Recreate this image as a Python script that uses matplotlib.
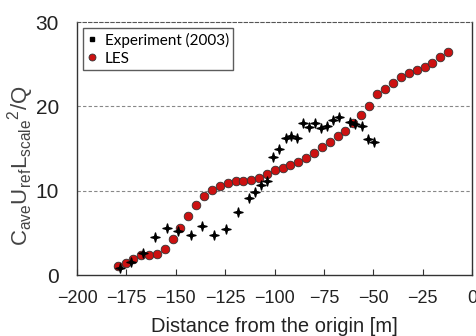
import matplotlib.pyplot as plt
from matplotlib.path import Path
import numpy as np

# experiment (2003)
exp_x = [-178.5, -172.5, -166.8, -160.5, -154.6, -148.7, -142.3, -136.7, -130.6, -124.7,
         -118.5, -112.8, -109.7, -106.7, -103.8, -100.6, -97.7, -94.5, -91.7, -88.6,
         -85.8, -82.7, -79.8, -76.6, -73.6, -70.6, -67.6, -62.1, -59.1, -55.7,
         -52.9, -49.9]
exp_y = [0.8, 1.6, 2.66, 4.56, 5.56, 5.16, 4.8, 5.79, 4.8, 5.4,
         7.46, 9.08, 9.8, 10.67, 11.1, 13.97, 14.96, 16.27, 16.46, 16.3,
         18.0, 17.5, 18.0, 17.4, 17.7, 18.4, 18.75, 18.2, 17.9, 17.7,
         16.15, 15.75]

# LES
les_x = [-179.4, -175.5, -171.6, -167.6, -163.7, -159.7, -155.6, -151.6, -147.7, -143.8,
         -139.7, -135.7, -131.6, -127.8, -123.7, -119.8, -115.8, -111.9, -107.8, -104.0,
         -100.0, -95.9, -92.0, -88.0, -83.9, -79.9, -76.0, -71.9, -67.9, -64.2,
         -60.1, -56.1, -52.0, -48.0, -43.9, -40.0, -36.0, -31.9, -28.1, -24.0,
         -20.1, -16.1, -12.2]
les_y = [1.07, 1.43, 1.94, 2.34, 2.34, 2.46, 3.06, 4.29, 5.56, 6.99,
         8.33, 9.32, 10.04, 10.6, 10.9, 11.1, 11.1, 11.27, 11.46, 11.99,
         12.42, 12.74, 13.06, 13.45, 13.93, 14.49, 15.12, 15.8, 16.46, 17.02,
         18.06, 18.93, 20.0, 21.47, 22.1, 22.8, 23.5, 23.9, 24.3, 24.7,
         25.1, 25.9, 26.5]

xticks = [-200, -175, -150, -125, -100, -75, -50, -25, 0]
yticks = [0, 10, 20, 30]

# four pointed star marker
a = np.linspace(0, 2 * np.pi, 9)[:-1] + np.pi / 2
r = np.where(np.arange(8) % 2 == 0, 1.0, 0.3)
verts = list(zip(r * np.cos(a), r * np.sin(a)))
star = Path(verts + [verts[0]], closed=True)

plt.rcParams['font.family'] = ['Liberation Sans', 'DejaVu Sans']
plt.rcParams['mathtext.fontset'] = 'custom'
plt.rcParams['mathtext.rm'] = 'Liberation Sans'
plt.rcParams['mathtext.it'] = 'Liberation Sans'

fig = plt.figure(figsize=(4.76, 3.36), dpi=100)
ax = fig.add_axes([0.162, 0.1815, 0.830, 0.753])

for yv in [10, 20]:
    ax.axhline(yv, color='#888888', lw=0.8, ls=(0, (3, 2)), zorder=0)

ax.plot(exp_x, exp_y, ls='none', marker=star, ms=6.5, color='black',
        label='Experiment (2003)', zorder=3)
ax.plot(les_x, les_y, ls='none', marker='o', ms=6.2, mfc='#cc1111',
        mec='#333333', mew=0.6, label='LES', zorder=2)

ax.set_xlim(-200, 0)
ax.set_ylim(0, 30)
ax.set_xticks(xticks)
ax.set_yticks(yticks)
ax.tick_params(axis='x', direction='in', length=4, labelsize=13, pad=11)
ax.tick_params(axis='y', direction='in', length=0, labelsize=15, pad=13)
ax.tick_params(axis='both', labelcolor='#222222', color='#333333')

for s in ['left', 'bottom', 'right']:
    ax.spines[s].set_color('#333333')
    ax.spines[s].set_linewidth(1.0)
ax.spines['top'].set_linestyle((0, (3, 2)))
ax.spines['top'].set_color('#555555')

ax.set_xlabel('Distance from the origin [m]', fontsize=14.5, color='#222222', labelpad=7)
ax.set_ylabel(r'$\mathrm{C_{ave}U_{ref}L_{scale}{}^{2}/Q}$', fontsize=16, color='#444444')
ax.yaxis.set_label_coords(-0.105, 0.43)

leg = ax.legend(loc='upper left', frameon=True, fancybox=False,
                edgecolor='#333333', handlelength=0.6, handletextpad=0.5,
                borderpad=0.3, labelspacing=0.25, borderaxespad=0.4,
                prop={'family': ['Lato', 'DejaVu Sans'], 'size': 11})
leg.get_frame().set_linewidth(1.0)
leg.legend_handles[0].set_markersize(3)
leg.legend_handles[0].set_marker('s')
leg.legend_handles[1].set_markersize(5)

fig.savefig('out.png', dpi=100)
